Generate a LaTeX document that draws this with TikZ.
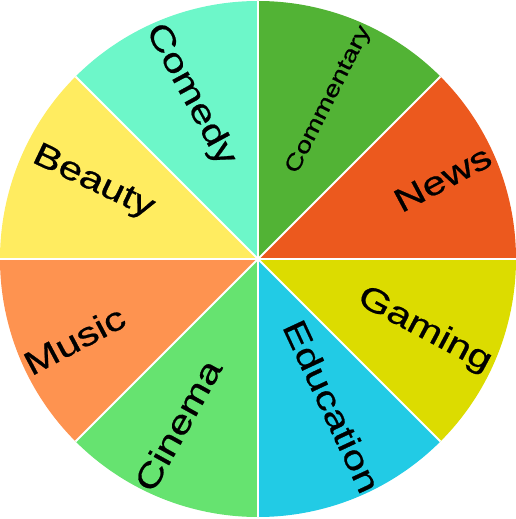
\documentclass[tikz,border=0pt]{standalone}
\usepackage{fontspec}
\setmainfont{Liberation Sans}
\newfontfamily\lblfont[FakeBold=0.6]{Liberation Sans}
\definecolor{cComm}{HTML}{52B335}
\definecolor{cNews}{HTML}{EC591E}
\definecolor{cGame}{HTML}{DCDC00}
\definecolor{cEdu}{HTML}{22CBE5}
\definecolor{cCine}{HTML}{66E370}
\definecolor{cMusic}{HTML}{FE9350}
\definecolor{cBeauty}{HTML}{FFEC60}
\definecolor{cComedy}{HTML}{6DF7C9}
\tikzset{
  lbl/.style={inner sep=0pt, text=black, text height=0.6em, text depth=0pt, font=\lblfont\fontsize{33}{38}\selectfont},
  small/.style={font=\lblfont\fontsize{22}{26}\selectfont},
  sep/.style={white, line width=2pt}
}
\newcommand{\wide}[1]{\scalebox{1.27}[1]{#1}}
\newcommand{\widesm}[1]{\scalebox{1.29}[1]{#1}}
\begin{document}
\begin{tikzpicture}[x=1pt,y=1pt]
\useasboundingbox (-258,-260) rectangle (258,259);
\def\R{258}
\coordinate (c) at (0,0);
\fill[cNews]   (c) -- (0:\R)   arc[start angle=0,   end angle=45,  radius=\R] -- cycle;
\fill[cComm]   (c) -- (45:\R)  arc[start angle=45,  end angle=90,  radius=\R] -- cycle;
\fill[cComedy] (c) -- (90:\R)  arc[start angle=90,  end angle=135, radius=\R] -- cycle;
\fill[cBeauty] (c) -- (135:\R) arc[start angle=135, end angle=180, radius=\R] -- cycle;
\fill[cMusic]  (c) -- (180:\R) arc[start angle=180, end angle=225, radius=\R] -- cycle;
\fill[cCine]   (c) -- (225:\R) arc[start angle=225, end angle=270, radius=\R] -- cycle;
\fill[cEdu]    (c) -- (270:\R) arc[start angle=270, end angle=315, radius=\R] -- cycle;
\fill[cGame]   (c) -- (315:\R) arc[start angle=315, end angle=360, radius=\R] -- cycle;
\foreach \a in {0,45,...,315} \draw[sep] (c) -- (\a:\R);
\node[lbl, small, rotate=63] (comm) at (73,158) {\widesm{Commentary}};
\node[lbl, rotate=28] (news) at (188.5,73) {\wide{News}};
\node[lbl, rotate=-28] (game) at (164,-76) {\wide{Gaming}};
\node[lbl, rotate=-65] (edu) at (66,-151) {\wide{Education}};
\node[lbl, rotate=61] (cine) at (-72.5,-170.5) {\wide{Cinema}};
\node[lbl, rotate=28] (music) at (-179.5,-89) {\wide{Music}};
\node[lbl, rotate=-25.5] (beauty) at (-167,72) {\wide{Beauty}};
\node[lbl, rotate=-61.5] (comedy) at (-72.5,161.5) {\wide{Comedy}};
\end{tikzpicture}
\end{document}
